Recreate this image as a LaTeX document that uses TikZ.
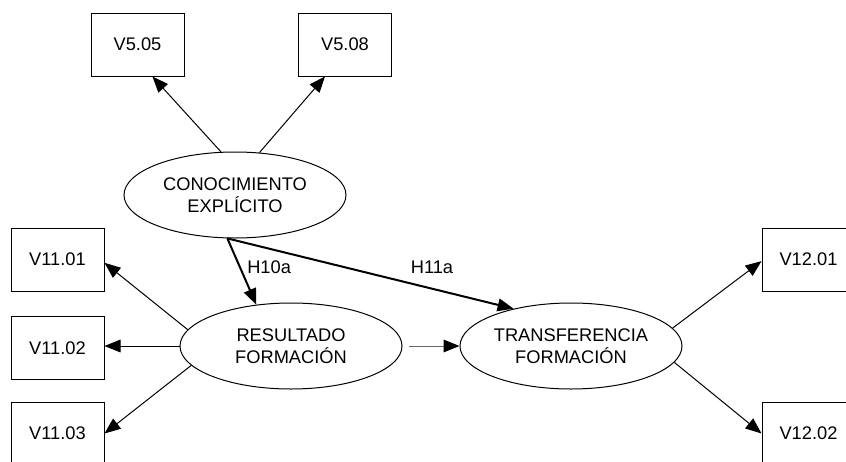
\documentclass[tikz,border=0pt]{standalone}
\usepackage{fontspec}
\setmainfont{Liberation Sans}
\usetikzlibrary{shapes.geometric,arrows.meta}

\begin{document}
\begin{tikzpicture}[x=0.75pt,y=0.75pt,yscale=-1,xscale=1,
  every node/.style={font=\fontsize{13.7}{16.3}\selectfont},
  box/.style={draw,line width=0.75pt,minimum width=69.75pt,minimum height=47.25pt,inner sep=0pt},
  latent/.style={draw,ellipse,line width=0.75pt,minimum width=166.5pt,minimum height=64.5pt,inner sep=0pt,align=center},
  load/.style={line width=0.75pt,-{Triangle[length=12pt,width=9.5pt]}},
  hyp/.style={line width=1.5pt,-{Triangle[length=12pt,width=9.5pt]}},
  lbl/.style={inner sep=0.75pt}]
\useasboundingbox (0,0) rectangle (846,461);

%Shape: Rectangle 
\node[box] (v505) at (137.5,44.5) {V5.05};
\node[box] (v508) at (345,44.5) {V5.08};
%Shape: Ellipse 
\node[latent] (con) at (235,195) {CONOCIMIENTO\\EXPLÍCITO};
%Shape: Rectangle 
\node[box] (v1101) at (57.5,259.5) {V11.01};
\node[box] (v1102) at (57.5,348) {V11.02};
\node[box] (v1103) at (57.5,433.5) {V11.03};
%Shape: Ellipse 
\node[latent] (res) at (291,346) {RESULTADO\\FORMACIÓN};
\node[latent] (tra) at (571,346) {TRANSFERENCIA\\FORMACIÓN};
%Shape: Rectangle 
\node[box] (v1201) at (808.5,259.5) {V12.01};
\node[box] (v1202) at (808.5,433.5) {V12.02};

%Straight Lines 
\draw[load] (con.108) -- (v505.295);
\draw[load] (con.60) -- (v508.238);
%Straight Lines 
\draw[hyp] (con.260) -- (res.130);
\draw[hyp] (con.260) -- (tra.147);
%Straight Lines 
\draw[load] (res.171) -- (v1101.-4);
\draw[load] (res.west) -- (res.west -| v1102.east);
\draw[load] (res.191) -- (v1103.east);
%Straight Lines 
\draw[line width=0.75pt,draw=black!60,shorten <=4.5pt,-{Triangle[length=12pt,width=9.5pt,black]}] (res.east) -- (tra.west);
%Straight Lines 
\draw[load] (tra.10) -- (v1201.182);
\draw[load] (tra.351) -- (v1202.west);

% Text Node
\node[lbl,anchor=west] (h10a) at (246,267) {H10a};
% Text Node
\node[lbl] (h11a) at (432,267) {H11a};
\end{tikzpicture}
\end{document}
